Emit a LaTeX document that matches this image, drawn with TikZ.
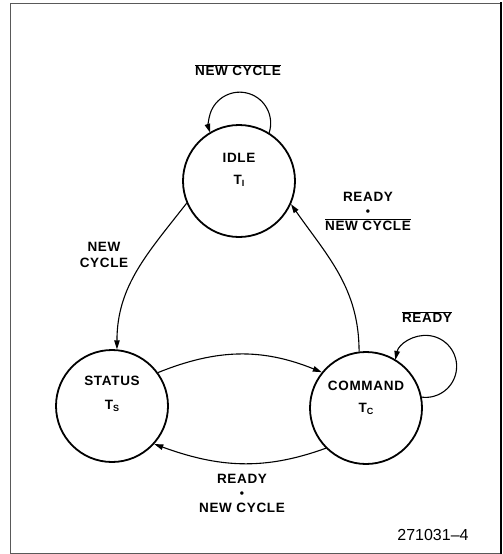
\documentclass[tikz,border=0pt]{standalone}
\usepackage{fontspec}
\setmainfont{Liberation Sans}
\newfontfamily\lblfont{Liberation Sans}[LetterSpace=5]
\usetikzlibrary{arrows.meta}
\newcommand{\ovl}[1]{$\overline{\hbox{#1}}$}
\newcommand{\tsub}[1]{\raisebox{-2.5pt}{\fontsize{9}{9}\selectfont #1}}
\newcommand{\smdot}{{\fontsize{12}{12}\selectfont\textbullet}}
\begin{document}
\begin{tikzpicture}[x=1pt,y=-1pt,
  state/.style={circle,draw,line width=1.8pt,minimum size=112pt,inner sep=0pt},
  txt/.style={font=\lblfont\bfseries\fontsize{13.5}{14.5}\selectfont,align=center,inner sep=0pt},
  trans/.style={line width=1.1pt,-{Triangle[length=9pt,width=5.5pt]}},
]
\useasboundingbox (0,0) rectangle (503,554);
% frame
\draw[black!65, line width=1pt] (501,3) -- (10,3) -- (10,553) -- (501,553);
\draw[line width=2pt] (501,2) -- (501,554);

% states
\node[state] (IDLE) at (239,181) {};
\node[state] (STATUS) at (112,406) {};
\node[state] (COMMAND) at (366,408) {};

\node[txt] (tI) at ([yshift=11pt]IDLE.center) {IDLE\\[7pt]T\tsub{I}};
\node[txt] (tS) at ([yshift=12pt]STATUS.center) {STATUS\\[9pt]T\tsub{S}};
\node[txt] (tC) at ([yshift=10pt]COMMAND.center) {COMMAND\\[7pt]T\tsub{C}};

% transitions
\draw[trans] (IDLE.58) arc[start angle=-18, end angle=198, radius=31pt];
\draw[trans] (COMMAND.11) arc[start angle=-97, end angle=168, radius=31pt];
\draw[trans] (IDLE.203) to[out=232,in=90] (STATUS.85);
\draw[trans] (COMMAND.97) to[out=90,in=-55] (IDLE.-24);
\draw[trans] (STATUS.36) to[out=22,in=158] (COMMAND.141);
\draw[trans] (COMMAND.225) to[out=200,in=-20] (STATUS.318);

% labels
\node[txt] (l1) at (238,70) {\ovl{NEW CYCLE}};
\node[txt] (l2) at (368,211) {READY\\\smdot\\\ovl{NEW CYCLE}};
\node[txt] (l3) at (427,317) {\ovl{READY}};
\node[txt] (l4) at (104,255) {NEW\\[1.5pt]CYCLE};
\node[txt] (l5) at (242,493) {READY\\\smdot\\NEW CYCLE};
\node[font=\fontsize{16}{16}\selectfont, inner sep=0pt] (fig) at (433,535) {271031–4};
\end{tikzpicture}
\end{document}
